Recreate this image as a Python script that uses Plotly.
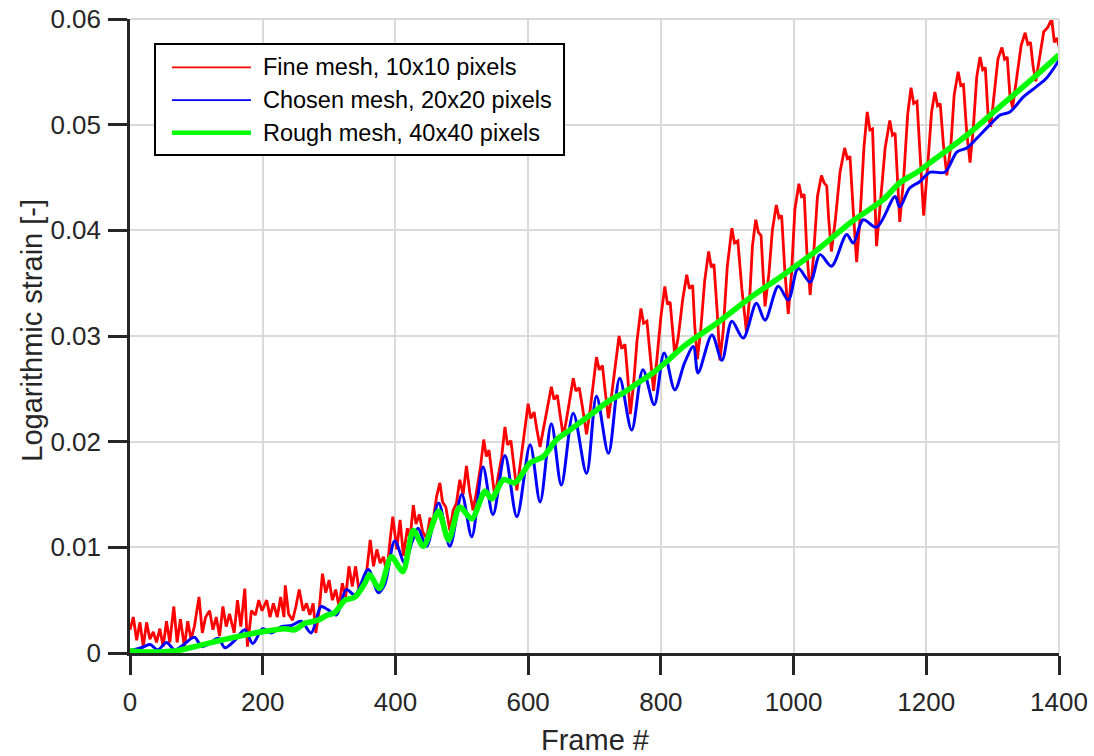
import plotly.graph_objects as go

# ---- data -------------------------------------------------------------
fine_frames = [0, 5, 10, 15, 20, 25, 30, 35, 40, 45, 50, 55, 60, 66, 71, 76, 82, 87, 92, 97,
               104, 109, 114, 120, 125, 130, 135, 140, 145, 150, 157, 162, 167, 173, 177, 183,
               189, 194, 199, 206, 211, 216, 222, 227, 232, 234, 239, 245, 250, 255, 261, 266,
               271, 276, 280, 285, 290, 295, 300, 305, 310, 315, 320, 325, 330, 335, 340, 345,
               351, 357, 362, 367, 372, 377, 382, 387, 392,
               396, 402, 407, 412, 418, 422, 427, 431, 436, 441, 447, 452, 456, 462, 467, 471,
               476, 482, 487, 492, 497, 502, 507, 512, 517, 522, 528, 533, 537, 541, 545, 550,
               555, 560, 565, 569, 574, 578, 583, 588, 594, 600, 604, 609, 613, 618, 623, 629,
               635, 639, 644, 648, 653, 658, 663, 668, 672, 677, 682, 688, 693, 698, 703, 707,
               712, 716, 721, 726, 731, 737, 741, 746, 750, 754, 759, 764, 770, 774, 779, 784,
               789, 794, 800, 806, 810, 814, 818, 821, 826, 833, 839, 843, 848, 851, 855, 860,
               866, 872, 876, 880, 885, 889, 894, 900, 907, 911, 916, 922, 929, 934, 938, 943,
               947, 951, 954, 957, 963, 968, 974, 978, 982, 987, 992, 997, 1002, 1008, 1012,
               1016, 1020, 1025, 1030, 1036, 1042, 1046, 1050, 1053, 1057, 1063, 1070, 1077,
               1081, 1085, 1090, 1095, 1100, 1106, 1111, 1115, 1119, 1122, 1125, 1130, 1138,
               1145, 1149, 1153, 1157, 1160, 1166, 1172, 1177, 1181, 1186, 1191, 1196, 1202,
               1208, 1213, 1217, 1221, 1226, 1231, 1237, 1242, 1248, 1252, 1256, 1261, 1266,
               1271, 1276, 1281, 1285, 1289, 1293, 1297, 1302, 1308, 1314, 1318, 1322, 1326,
               1330, 1336, 1343, 1349, 1353, 1357, 1361, 1365, 1371, 1377, 1383, 1389, 1393,
               1397, 1400]
fine_strain = [0.0022, 0.0034, 0.0012, 0.0029, 0.0006, 0.0029, 0.0013, 0.0020, 0.0010, 0.0023,
               0.0006, 0.0030, 0.0010, 0.0044, 0.0010, 0.0032, 0.0006, 0.0030, 0.0013, 0.0025,
               0.0053, 0.0019, 0.0034, 0.0040, 0.0022, 0.0034, 0.0016, 0.0044, 0.0025, 0.0037,
               0.0019, 0.0050, 0.0025, 0.0061, 0.0006, 0.0040, 0.0036, 0.0050, 0.0040, 0.0050,
               0.0034, 0.0047, 0.0034, 0.0053, 0.0034, 0.0064, 0.0037, 0.0031, 0.0044, 0.0060,
               0.0040, 0.0047, 0.0036, 0.0047, 0.0019, 0.0040, 0.0075, 0.0057, 0.0069, 0.0050,
               0.0060, 0.0044, 0.0066, 0.0053, 0.0082, 0.0063, 0.0082, 0.0060, 0.0069, 0.0079,
               0.0107, 0.0082, 0.0098, 0.0085, 0.0091, 0.0076, 0.0107,
               0.0129, 0.0098, 0.0126, 0.0092, 0.0118, 0.0108, 0.0140, 0.0122, 0.0131, 0.0115,
               0.0108, 0.0128, 0.0122, 0.0148, 0.0161, 0.0143, 0.0138, 0.0116, 0.0135, 0.0142,
               0.0164, 0.0150, 0.0177, 0.0152, 0.0135, 0.0152, 0.0175, 0.0202, 0.0186, 0.0192,
               0.0172, 0.0147, 0.0168, 0.0185, 0.0214, 0.0197, 0.0201, 0.0178, 0.0154, 0.0178,
               0.0205, 0.0236, 0.0222, 0.0228, 0.0212, 0.0195, 0.0212, 0.0232, 0.0252, 0.0240,
               0.0244, 0.0226, 0.0205, 0.0222, 0.0242, 0.0260, 0.0248, 0.0251, 0.0232, 0.0207,
               0.0228, 0.0255, 0.0280, 0.0268, 0.0272, 0.0248, 0.0222, 0.0245, 0.0272, 0.0300,
               0.0288, 0.0292, 0.0262, 0.0226, 0.0255, 0.0295, 0.0326, 0.0312, 0.0314, 0.0282,
               0.0248, 0.0278, 0.0318, 0.0347, 0.0330, 0.0332, 0.0300, 0.0282, 0.0298, 0.0335,
               0.0358, 0.0345, 0.0348, 0.0310, 0.0278, 0.0305, 0.0352, 0.0380, 0.0365, 0.0368,
               0.0322, 0.0277, 0.0305, 0.0365, 0.0402, 0.0388, 0.0390, 0.0345, 0.0304, 0.0338,
               0.0385, 0.0410, 0.0398, 0.0395, 0.0360, 0.0328, 0.0360, 0.0400, 0.0424, 0.0412,
               0.0414, 0.0360, 0.0321, 0.0360, 0.0420, 0.0444, 0.0432, 0.0434, 0.0380, 0.0339,
               0.0375, 0.0432, 0.0452, 0.0445, 0.0442, 0.0410, 0.0380, 0.0410, 0.0455, 0.0478,
               0.0468, 0.0470, 0.0418, 0.0370, 0.0410, 0.0478, 0.0512, 0.0495, 0.0496, 0.0430,
               0.0385, 0.0420, 0.0478, 0.0504, 0.0490, 0.0492, 0.0445, 0.0408, 0.0450, 0.0510,
               0.0535, 0.0520, 0.0522, 0.0462, 0.0414, 0.0460, 0.0512, 0.0531, 0.0518, 0.0520,
               0.0480, 0.0452, 0.0480, 0.0528, 0.0550, 0.0537, 0.0538, 0.0492, 0.0464, 0.0498,
               0.0545, 0.0564, 0.0552, 0.0554, 0.0510, 0.0498, 0.0525, 0.0562, 0.0573, 0.0562,
               0.0564, 0.0528, 0.0516, 0.0545, 0.0575, 0.0587, 0.0576, 0.0578, 0.0555, 0.0541,
               0.0565, 0.0588, 0.0592, 0.0600, 0.0578, 0.0582, 0.0574]

chosen_frames = [0, 17, 30, 42, 55, 67, 77, 97, 108, 120, 133, 143, 158, 173, 185, 200, 213,
                 228, 243, 258, 273, 288, 298, 311, 326, 339, 359, 374, 384, 399, 414, 425,
                 434, 447, 465, 482, 500, 515, 532, 547, 565, 583, 603, 618, 635, 650, 668,
                 688, 703, 721, 738, 756, 773, 790, 805, 821, 836, 849, 856, 877, 892, 907,
                 924, 944, 957, 977, 992, 1007, 1025, 1040, 1057, 1080, 1090, 1105, 1125,
                 1153, 1160, 1175, 1190, 1206, 1228, 1246, 1261, 1276, 1296, 1311, 1326,
                 1346, 1366, 1381, 1400]
chosen_strain = [0.0002, 0.0005, 0.0008, 0.0003, 0.0010, 0.0003, 0.0006, 0.0015, 0.0006,
                 0.0009, 0.0014, 0.0005, 0.0012, 0.0022, 0.0009, 0.0023, 0.0019, 0.0025,
                 0.0026, 0.0030, 0.0019, 0.0044, 0.0041, 0.0036, 0.0060, 0.0055, 0.0079,
                 0.0057, 0.0065, 0.0106, 0.0085, 0.0105, 0.0118, 0.0101, 0.0142, 0.0101,
                 0.0150, 0.0110, 0.0176, 0.0131, 0.0187, 0.0129, 0.0197, 0.0143, 0.0217,
                 0.0159, 0.0227, 0.0170, 0.0243, 0.0189, 0.0260, 0.0211, 0.0268, 0.0235,
                 0.0284, 0.0249, 0.0275, 0.0290, 0.0265, 0.0301, 0.0277, 0.0314, 0.0298,
                 0.0331, 0.0315, 0.0347, 0.0334, 0.0364, 0.0351, 0.0377, 0.0366, 0.0396,
                 0.0388, 0.0410, 0.0403, 0.0432, 0.0422, 0.0440, 0.0446, 0.0455, 0.0455,
                 0.0474, 0.0478, 0.0487, 0.0500, 0.0509, 0.0512, 0.0526, 0.0536, 0.0544,
                 0.0561]

rough_frames = [0, 20, 47, 70, 97, 137, 173, 198, 233, 248, 263, 283, 298, 308, 324, 339,
                354, 361, 376, 394, 411, 427, 442, 465, 480, 497, 515, 535, 545, 563, 580,
                603, 623, 643, 663, 693, 723, 743, 764, 790, 811, 834, 884, 934, 985, 1035,
                1085, 1135, 1160, 1186, 1210, 1261, 1311, 1361, 1400]
rough_strain = [0.0002, 0.0001, 0.0001, 0.0002, 0.0006, 0.0012, 0.0017, 0.0020, 0.0023,
                0.0022, 0.0028, 0.0031, 0.0036, 0.0038, 0.0050, 0.0053, 0.0066, 0.0074,
                0.0061, 0.0091, 0.0077, 0.0116, 0.0101, 0.0134, 0.0107, 0.0138, 0.0127,
                0.0153, 0.0146, 0.0164, 0.0161, 0.0180, 0.0186, 0.0202, 0.0211, 0.0225,
                0.0239, 0.0246, 0.0255, 0.0266, 0.0277, 0.0290, 0.0312, 0.0336, 0.0358,
                0.0381, 0.0407, 0.0429, 0.0445, 0.0455, 0.0466, 0.0490, 0.0517, 0.0544,
                0.0566]

x_ticks = [0, 200, 400, 600, 800, 1000, 1200, 1400]
y_ticks = [0, 0.01, 0.02, 0.03, 0.04, 0.05, 0.06]
y_tick_text = ["0", "0.01", "0.02", "0.03", "0.04", "0.05", "0.06"]

series_names = ["Fine mesh, 10x10 pixels", "Chosen mesh, 20x20 pixels", "Rough mesh, 40x40 pixels"]
series_colors = ["#ff0000", "#0000ff", "#00ff00"]
series_widths = [2.8, 3.0, 5.6]
legend_widths = [1.8, 1.8, 4.5]

# ---- figure -----------------------------------------------------------
FONT = "Liberation Sans, Arial, Helvetica, sans-serif"
INK = "#262626"
GRID = "#dadada"

fig = go.Figure()
fig.add_trace(go.Scatter(x=fine_frames, y=fine_strain, mode="lines", name=series_names[0],
                         line=dict(color=series_colors[0], width=series_widths[0])))
fig.add_trace(go.Scatter(x=chosen_frames, y=chosen_strain, mode="lines", name=series_names[1],
                         line=dict(color=series_colors[1], width=series_widths[1],
                                   shape="spline", smoothing=0.9)))
fig.add_trace(go.Scatter(x=rough_frames, y=rough_strain, mode="lines", name=series_names[2],
                         line=dict(color=series_colors[2], width=series_widths[2],
                                   shape="spline", smoothing=0.8)))

axis_common = dict(
    showgrid=True, gridcolor=GRID, gridwidth=2, zeroline=False,
    showline=True, linecolor=INK, linewidth=2.5,
    ticks="outside", ticklen=19, tickwidth=2.5, tickcolor=INK,
    tickfont=dict(family=FONT, size=26, color=INK),
    automargin=False,
)
fig.update_xaxes(range=[0, 1400], tickvals=x_ticks, ticktext=[str(t) for t in x_ticks],
                 ticklabelstandoff=5, **axis_common)
fig.update_yaxes(range=[0, 0.06], tickvals=y_ticks, ticktext=y_tick_text,
                 ticklabelstandoff=2, **axis_common)

shapes = [
    # light frame on the top and right sides
    dict(type="line", xref="paper", yref="paper", x0=0, x1=1, y0=1, y1=1,
         line=dict(color=GRID, width=2)),
    dict(type="line", xref="paper", yref="paper", x0=1, x1=1, y0=0, y1=1,
         line=dict(color=GRID, width=2)),
    # legend box
    dict(type="rect", xref="paper", yref="paper", x0=0.0269, x1=0.4672, y0=0.7855, y1=0.9606,
         line=dict(color="#000000", width=2), fillcolor="#ffffff", layer="above"),
]
annotations = []
legend_rows = [0.9238, 0.8722, 0.8206]
for name, color, lw, yrow in zip(series_names, series_colors, legend_widths, legend_rows):
    shapes.append(dict(type="line", xref="paper", yref="paper", x0=0.0452, x1=0.1302,
                       y0=yrow, y1=yrow, line=dict(color=color, width=lw), layer="above"))
    annotations.append(dict(xref="paper", yref="paper", x=0.1406, y=yrow, text=name,
                            showarrow=False, xanchor="left", yanchor="middle",
                            font=dict(family=FONT, size=23.5, color="#000000")))

annotations.append(dict(xref="paper", yref="paper", x=0.5, y=-0.137, text="Frame #",
                        showarrow=False, xanchor="center", yanchor="middle",
                        font=dict(family=FONT, size=29, color=INK)))
annotations.append(dict(xref="paper", yref="paper", x=-0.1055, y=0.51,
                        text="Logarithmic strain [-]", textangle=-90,
                        showarrow=False, xanchor="center", yanchor="middle",
                        font=dict(family=FONT, size=29, color=INK)))

fig.update_layout(
    width=1094, height=756,
    margin=dict(l=130, r=35, t=19, b=103),
    paper_bgcolor="#ffffff", plot_bgcolor="#ffffff",
    showlegend=False,
    shapes=shapes, annotations=annotations,
)

fig.write_html("out.html")
